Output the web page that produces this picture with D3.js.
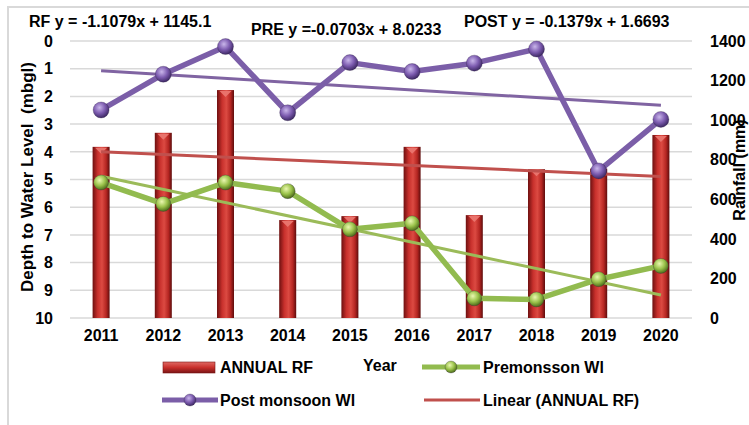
<!DOCTYPE html>
<html>
<head>
<meta charset="utf-8">
<script src="https://cdn.jsdelivr.net/npm/d3@7"></script>
<style>
  body { margin: 0; background: #fff; }
  svg { display: block; font-family: "Liberation Sans", Arial, sans-serif; font-weight: bold; }
</style>
</head>
<body>
<svg width="749" height="425"></svg>
<script>
var WIDTH = 749
var HEIGHT = 425

// data
var years = ["2011", "2012", "2013", "2014", "2015", "2016", "2017", "2018", "2019", "2020"];
var annualRF = [865, 936, 1152, 495, 515, 865, 520, 752, 755, 925];
var preWL = [5.11, 5.88, 5.11, 5.42, 6.80, 6.58, 9.29, 9.33, 8.60, 8.12];
var postWL = [2.49, 1.20, 0.20, 2.59, 0.78, 1.10, 0.80, 0.29, 4.69, 2.83];
var leftTicks = [0, 1, 2, 3, 4, 5, 6, 7, 8, 9, 10];
var rightTicks = [0, 200, 400, 600, 800, 1000, 1200, 1400];
var equations = ["RF y = -1.1079x + 1145.1", "PRE y =-0.0703x + 8.0233", "POST y = -0.1379x + 1.6693"];

var plot = { left: 70, right: 692, top: 41, bottom: 318 };

var svg = d3.select("svg");
var defs = svg.append("defs");

var x = d3.scaleBand()
    .domain(years)
    .range([plot.left, plot.right])
    .padding(0);

var yLeft = d3.scaleLinear().domain([0, 10]).range([plot.top, plot.bottom]);
var yRight = d3.scaleLinear().domain([0, 1400]).range([plot.bottom, plot.top]);

function cx(d) { return x(d) + x.bandwidth() / 2; }

// gradients
var barGrad = defs.append("linearGradient").attr("id", "barGrad")
    .attr("x1", 0).attr("x2", 1).attr("y1", 0).attr("y2", 0);
barGrad.append("stop").attr("offset", "0%").attr("stop-color", "#6e1010");
barGrad.append("stop").attr("offset", "30%").attr("stop-color", "#c8302c");
barGrad.append("stop").attr("offset", "55%").attr("stop-color", "#dc4a42");
barGrad.append("stop").attr("offset", "80%").attr("stop-color", "#b52622");
barGrad.append("stop").attr("offset", "100%").attr("stop-color", "#5e0c0c");

var legGrad = defs.append("linearGradient").attr("id", "legGrad")
    .attr("x1", 0).attr("x2", 0).attr("y1", 0).attr("y2", 1);
legGrad.append("stop").attr("offset", "0%").attr("stop-color", "#e06a64");
legGrad.append("stop").attr("offset", "50%").attr("stop-color", "#c8302c");
legGrad.append("stop").attr("offset", "100%").attr("stop-color", "#7a1414");

function sphere(id, light, mid, dark) {
    var g = defs.append("radialGradient").attr("id", id)
        .attr("cx", "40%").attr("cy", "35%").attr("r", "65%");
    g.append("stop").attr("offset", "0%").attr("stop-color", light);
    g.append("stop").attr("offset", "55%").attr("stop-color", mid);
    g.append("stop").attr("offset", "100%").attr("stop-color", dark);
}
sphere("purpleBall", "#c9b6ea", "#7d5cb0", "#3f2a66");
sphere("greenBall", "#eaf7b0", "#9ac24a", "#4f6e1c");

// chart frame
svg.append("path")
    .attr("d", "M8," + HEIGHT + "V7H" + WIDTH)
    .attr("fill", "none")
    .attr("stroke", "#d9d9d9")
    .attr("stroke-width", 2);

// gridlines
svg.append("g").selectAll("line")
    .data(leftTicks)
    .join("line")
    .attr("x1", plot.left).attr("x2", plot.right)
    .attr("y1", function (d) { return yLeft(d); })
    .attr("y2", function (d) { return yLeft(d); })
    .attr("stroke", "#d9d9d9")
    .attr("stroke-width", 1.5);

// tick labels
svg.append("g").selectAll("text")
    .data(leftTicks)
    .join("text")
    .attr("x", 53)
    .attr("y", function (d) { return yLeft(d); })
    .attr("dy", "0.36em")
    .attr("text-anchor", "end")
    .style("font-size", "16px")
    .text(function (d) { return d; });

svg.append("g").selectAll("text")
    .data(rightTicks)
    .join("text")
    .attr("x", 710)
    .attr("y", function (d) { return yRight(d); })
    .attr("dy", "0.36em")
    .style("font-size", "16px")
    .text(function (d) { return d; });

svg.append("g").selectAll("text")
    .data(years)
    .join("text")
    .attr("x", cx)
    .attr("y", 341)
    .attr("text-anchor", "middle")
    .style("font-size", "16px")
    .text(function (d) { return d; });

// axis titles
svg.append("text")
    .attr("transform", "translate(33,177)rotate(-90)")
    .attr("text-anchor", "middle")
    .style("font-size", "17px")
    .style("white-space", "pre")
    .text("Depth to Water Level  (mbgl)");

svg.append("text")
    .attr("transform", "translate(745,170)rotate(-90)")
    .attr("text-anchor", "middle")
    .style("font-size", "16px")
    .text("Rainfall (mm)");

// bars
var barW = 17;
var bars = svg.append("g");
bars.selectAll("rect")
    .data(years)
    .join("rect")
    .attr("x", function (d) { return cx(d) - barW / 2; })
    .attr("width", barW)
    .attr("y", function (d, i) { return yRight(annualRF[i]); })
    .attr("height", function (d, i) { return plot.bottom - yRight(annualRF[i]); })
    .attr("fill", "url(#barGrad)");
bars.selectAll("path")
    .data(years)
    .join("path")
    .attr("d", function (d, i) {
        var c = cx(d), t = yRight(annualRF[i]);
        return "M" + (c - 6) + "," + (t + 1) + "L" + (c + 6) + "," + (t + 1) + "L" + c + "," + (t + 7) + "Z";
    })
    .attr("fill", "#e9736c");

// least squares trend over the category index
function trend(vals) {
    var n = vals.length;
    var xs = d3.range(1, n + 1);
    var mx = d3.mean(xs), my = d3.mean(vals);
    var sxy = d3.sum(xs, function (v, i) { return (v - mx) * (vals[i] - my); });
    var sxx = d3.sum(xs, function (v) { return (v - mx) * (v - mx); });
    var b = sxy / sxx, a = my - b * mx;
    return [a + b * xs[0], a + b * xs[n - 1]];
}

function trendLine(vals, scale, color) {
    var t = trend(vals);
    svg.append("line")
        .attr("x1", cx(years[0])).attr("x2", cx(years[years.length - 1]))
        .attr("y1", scale(t[0])).attr("y2", scale(t[1]))
        .attr("stroke", color)
        .attr("stroke-width", 3);
}

trendLine(annualRF, yRight, "#c0504d");
trendLine(postWL, yLeft, "#8064a2");
trendLine(preWL, yLeft, "#9bbb59");

var line = d3.line()
    .x(function (d) { return cx(d[0]); })
    .y(function (d) { return d[1]; });

function series(vals, lineColor, ball, r) {
    var pts = years.map(function (d, i) { return [d, yLeft(vals[i])]; });
    svg.append("path")
        .attr("d", line(pts))
        .attr("fill", "none")
        .attr("stroke", lineColor)
        .attr("stroke-width", 5.5)
        .attr("stroke-linejoin", "round");
    svg.append("g").selectAll("circle")
        .data(pts)
        .join("circle")
        .attr("cx", function (d) { return cx(d[0]); })
        .attr("cy", function (d) { return d[1]; })
        .attr("r", r)
        .attr("fill", "url(#" + ball + ")")
        .attr("stroke", "rgba(40,30,60,0.35)")
        .attr("stroke-width", 0.8);
}

series(preWL, "#92bb4f", "greenBall", 7.5);
series(postWL, "#7b5ea8", "purpleBall", 8);

// equations
var eqPos = [[29, 27], [251, 35], [464, 27]];
svg.append("g").selectAll("text")
    .data(equations)
    .join("text")
    .attr("x", function (d, i) { return eqPos[i][0]; })
    .attr("y", function (d, i) { return eqPos[i][1]; })
    .style("font-size", "16px")
    .text(function (d) { return d; });

// legend
var leg = svg.append("g").style("font-size", "16px");
leg.append("rect").attr("x", 163).attr("y", 362).attr("width", 52).attr("height", 11)
    .attr("fill", "url(#legGrad)").attr("stroke", "#7a1414").attr("stroke-width", 0.6);
leg.append("text").attr("x", 220).attr("y", 373).text("ANNUAL RF");
leg.append("text").attr("x", 363).attr("y", 371).text("Year");

leg.append("line").attr("x1", 422).attr("x2", 480).attr("y1", 367).attr("y2", 367)
    .attr("stroke", "#92bb4f").attr("stroke-width", 5);
leg.append("circle").attr("cx", 451).attr("cy", 367).attr("r", 6)
    .attr("fill", "url(#greenBall)").attr("stroke", "rgba(40,30,60,0.35)").attr("stroke-width", 0.8);
leg.append("text").attr("x", 483).attr("y", 373).text("Premonsson Wl");

leg.append("line").attr("x1", 162).attr("x2", 218).attr("y1", 400).attr("y2", 400)
    .attr("stroke", "#7b5ea8").attr("stroke-width", 5);
leg.append("circle").attr("cx", 190).attr("cy", 400).attr("r", 6)
    .attr("fill", "url(#purpleBall)").attr("stroke", "rgba(40,30,60,0.35)").attr("stroke-width", 0.8);
leg.append("text").attr("x", 220).attr("y", 406).text("Post monsoon Wl");

leg.append("line").attr("x1", 424).attr("x2", 480).attr("y1", 400).attr("y2", 400)
    .attr("stroke", "#c0504d").attr("stroke-width", 3);
leg.append("text").attr("x", 483).attr("y", 406).text("Linear (ANNUAL RF)");
</script>
</body>
</html>
